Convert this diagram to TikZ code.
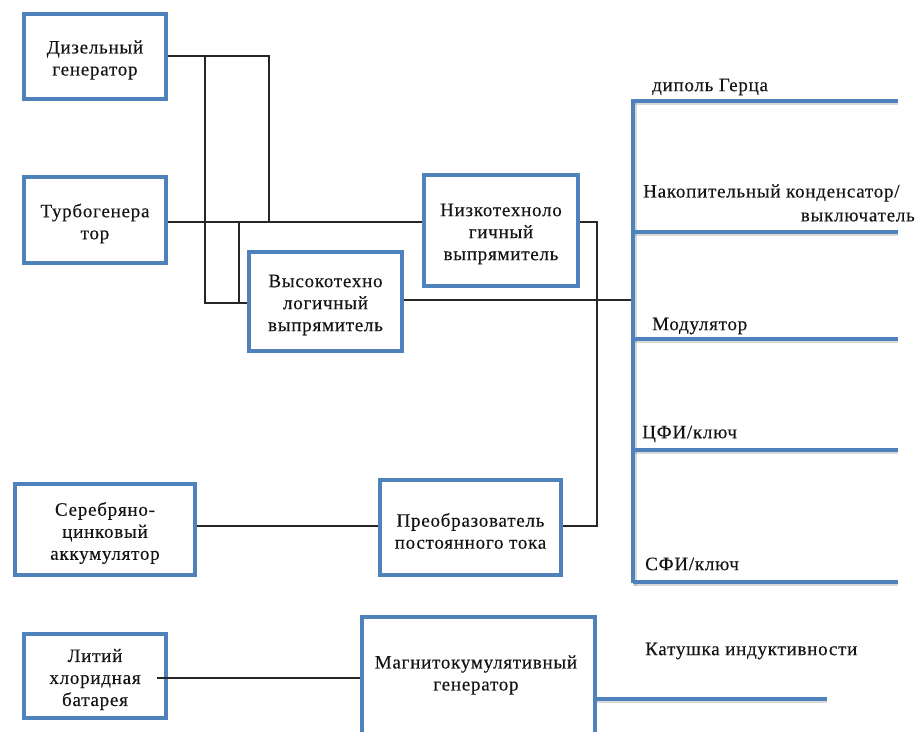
\documentclass[tikz,border=0pt]{standalone}
\usepackage{fontspec}
\newfontfamily\tnr{Liberation Serif}[LetterSpace=4,FakeBold=0.3]
\usetikzlibrary{shadows}
\definecolor{boxblue}{RGB}{79,129,189}
\definecolor{txtc}{RGB}{20,20,20}
\tikzset{
  box/.style={draw=boxblue, line width=4pt, fill=white, inner sep=0pt,
    drop shadow={opacity=0.25, shadow xshift=1.5pt, shadow yshift=-1.5pt}},
  txt/.style={inner sep=0pt, align=center, text=txtc, font=\tnr\fontsize{19}{22}\selectfont},
  inbox/.style={txt, yshift=-3.5pt},
  lbl/.style={inner sep=0pt, text=txtc, font=\tnr\fontsize{19}{22}\selectfont},
  wire/.style={draw=black!85, line width=1.2pt},
  bus/.style={draw=boxblue, line width=4pt},
  busshadow/.style={draw=black, opacity=0.15, line width=4pt}
}
\begin{document}
\begin{tikzpicture}[x=1pt,y=-1pt]
\useasboundingbox (0,0) rectangle (920,731);
\begin{scope}
\clip (0,0) rectangle (920,731);
% boxes
\node[box, minimum width=142pt, minimum height=85pt,
  label={[inbox]center:{Дизельный\\генератор}}] (diesel) at (95,56.5) {};
\node[box, minimum width=142pt, minimum height=86pt,
  label={[inbox]center:{Турбогенера\\тор}}] (turbo) at (95,220) {};
\node[box, minimum width=153pt, minimum height=99pt,
  label={[inbox]center:{Высокотехно\\логичный\\выпрямитель}}] (high) at (325.5,301.5) {};
\node[box, minimum width=154pt, minimum height=111pt,
  label={[inbox]center:{Низкотехноло\\гичный\\выпрямитель}}] (low) at (501,230.5) {};
\node[box, minimum width=180pt, minimum height=91pt,
  label={[inbox]center:{Серебряно-\\цинковый\\аккумулятор}}] (silver) at (105,529.5) {};
\node[box, minimum width=181pt, minimum height=95pt,
  label={[inbox]center:{Преобразователь\\постоянного тока}}] (conv) at (470.5,527.5) {};
\node[box, minimum width=142pt, minimum height=84pt,
  label={[inbox]center:{Литий\\хлоридная\\батарея}}] (lith) at (95,676) {};
\node[box, minimum width=233pt, minimum height=160pt, anchor=north west] (magn) at (360,615) {};
\node[txt] (magntext) at (476,675) {Магнитокумулятивный\\генератор};
\end{scope}
% junction coordinates
\coordinate (jd1) at (205,56);
\coordinate (jd2) at (269,56);
\coordinate (jt1) at (205,222);
\coordinate (jt2) at (239,222);
\coordinate (jt3) at (269,222);
\coordinate (jh1) at (205,303);
\coordinate (jh2) at (239,303);
\coordinate (jl1) at (597,222);
\coordinate (jl2) at (597,526);
\coordinate (busT) at (633,101);
\coordinate (busB) at (633,583);
\coordinate (busM) at (633,300);
\coordinate (lithstart) at (157,678);
% wires
\draw[wire] (diesel.east |- jd1) -- (jd2) -- (jt3);
\draw[wire] (jd1) -- (jh1) -- (high.west |- jh1);
\draw[wire] (turbo.east |- jt1) -- (low.west |- jt1);
\draw[wire] (jt2) -- (jh2);
\draw[wire] (high.east |- busM) -- (busM);
\draw[wire] (low.east |- jl1) -- (jl1) -- (jl2) -- (conv.east |- jl2);
\draw[wire] (silver.east |- jl2) -- (conv.west |- jl2);
\draw[wire] (lithstart) -- (magn.west |- lithstart);
% right bus shadows
\begin{scope}[busshadow, shift={(1.5,2)}]
\draw (633,99) -- (633,584);
\foreach \y in {101,232,339,450,582} \draw (633,\y) -- (896,\y);
\draw (595,699) -- (825,699);
\end{scope}
% right bus
\draw[bus] (633,99) -- (busB);
\foreach \y/\n in {101/b1,232/b2,339/b3,450/b4,582/b5} {
  \coordinate (\n) at (898,\y);
  \draw[bus] (633,\y) -- (\n);
}
\coordinate (coilend) at (827,699);
\draw[bus] (magn.east |- coilend) -- (coilend);
% labels
\node[lbl, anchor=west] (l1) at (652,87) {диполь Герца};
\node[lbl, anchor=west] (l2) at (643,193) {Накопительный конденсатор/};
\node[lbl, anchor=east] (l2b) at (915,217) {выключатель};
\node[lbl, anchor=west] (l3) at (652,326) {Модулятор};
\node[lbl, anchor=west] (l4) at (642,434) {ЦФИ/ключ};
\node[lbl, anchor=west] (l5) at (645,564) {СФИ/ключ};
\node[lbl, anchor=west] (l6) at (645,651) {Катушка индуктивности};
\end{tikzpicture}
\end{document}
